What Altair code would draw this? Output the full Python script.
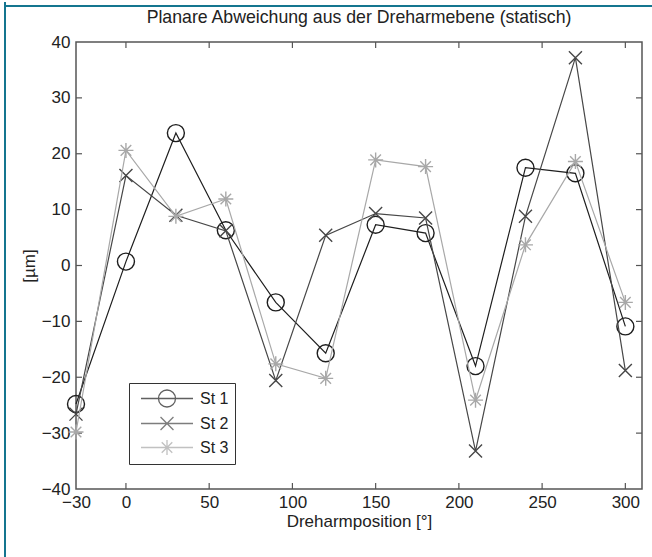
import altair as alt
import pandas as pd

# ---- data ----
positions = [-30, 0, 30, 60, 90, 120, 150, 180, 210, 240, 270, 300]
st1 = [-24.8, 0.7, 23.7, 6.3, -6.6, -15.7, 7.3, 5.8, -18.0, 17.5, 16.5, -10.9]
st2 = [-26.6, 16.1, 9.0, 6.2, -20.6, 5.4, 9.3, 8.5, -33.2, 8.8, 37.2, -18.8]
st3 = [-29.8, 20.6, 8.8, 11.9, -17.6, -20.2, 18.9, 17.7, -24.1, 3.7, 18.6, -6.6]
series_names = ["St 1", "St 2", "St 3"]
series_colors = ["#1e1e1e", "#474747", "#a8a8a8"]

x_label_values = [-30, 0, 50, 100, 150, 200, 250, 300]
y_label_values = [-40, -30, -20, -10, 0, 10, 20, 30, 40]
x_inner_ticks = [0, 50, 100, 150, 200, 250, 300]
y_inner_ticks = [-30, -20, -10, 0, 10, 20, 30]

rows = []
for name, vals in zip(series_names, [st1, st2, st3]):
    for p, v in zip(positions, vals):
        rows.append({"series": name, "pos": p, "val": v})
df = pd.DataFrame(rows)

W, H = 566, 447
FONT = "Liberation Sans"
TXT = "#222222"
FRAME = "#555555"

xscale = alt.Scale(domain=[-30, 310], nice=False, zero=False)
yscale = alt.Scale(domain=[-40, 40], nice=False, zero=False)
xaxis = alt.Axis(values=x_label_values, ticks=False, tickSize=0, domain=False, grid=False,
                 labelFont=FONT, labelFontSize=17, labelColor=TXT, labelPadding=5,
                 title="Dreharmposition [°]", titleFont=FONT, titleFontSize=17,
                 titleFontWeight="normal", titleColor=TXT, titlePadding=3,
                 labelFlush=False)
yaxis = alt.Axis(values=y_label_values, ticks=False, tickSize=0, domain=False, grid=False,
                 labelFont=FONT, labelFontSize=17, labelColor=TXT, labelPadding=6,
                 title="[µm]", titleFont=FONT, titleFontSize=17,
                 titleFontWeight="normal", titleColor=TXT, titlePadding=3,
                 labelFlush=False)

def X(field):
    return alt.X(field, type="quantitative", scale=xscale, axis=xaxis)

def Y(field):
    return alt.Y(field, type="quantitative", scale=yscale, axis=yaxis)

# ---- outer teal frame (decoration) ----
one = alt.Data(values=[{}])
teal = "#14758f"
frame_left = alt.Chart(one).mark_rule(color=teal, strokeWidth=2).encode(
    x=alt.value(-71), y=alt.value(-40), y2=alt.value(530))
frame_top = alt.Chart(one).mark_rule(color=teal, strokeWidth=2).encode(
    x=alt.value(-72), x2=alt.value(600), y=alt.value(-36))

# ---- inner ticks (MATLAB style) ----
xt = pd.DataFrame({"t": x_inner_ticks})
yt = pd.DataFrame({"t": y_inner_ticks})
tick_len = 6
tick_style = dict(color=FRAME, strokeWidth=1.2)
ticks_bottom = alt.Chart(xt).mark_rule(**tick_style).encode(
    x=X("t"), y=alt.value(H), y2=alt.value(H - tick_len))
ticks_top = alt.Chart(xt).mark_rule(**tick_style).encode(
    x=X("t"), y=alt.value(0), y2=alt.value(tick_len))
ticks_left = alt.Chart(yt).mark_rule(**tick_style).encode(
    y=Y("t"), x=alt.value(0), x2=alt.value(tick_len))
ticks_right = alt.Chart(yt).mark_rule(**tick_style).encode(
    y=Y("t"), x=alt.value(W), x2=alt.value(W - tick_len))

# ---- series lines + markers ----
marker_shapes = [
    "circle",
    "M-1,-1L1,1M-1,1L1,-1",
    "M-0.7071,-0.7071L0.7071,0.7071M-0.7071,0.7071L0.7071,-0.7071M0,-1V1M-1,0H1",
]
marker_sizes = [289, 169, 225]
series_layers = []
for name, shp, sz, col in zip(series_names, marker_shapes, marker_sizes, series_colors):
    base = alt.Chart(df).transform_filter(alt.datum.series == name)
    series_layers.append(
        base.mark_line(color=col, strokeWidth=1.2).encode(x=X("pos"), y=Y("val"))
    )
    series_layers.append(
        base.mark_point(shape=shp, size=sz, filled=False, color=col, strokeWidth=1.4, opacity=1)
        .encode(x=X("pos"), y=Y("val"))
    )

# ---- legend (line + marker symbols) ----
legend_paths = [
    "M-3.06,0H3.06M1,0A1,1,0,1,1,-1,0A1,1,0,1,1,1,0",
    "M-3.06,0H3.06M-0.76,-0.76L0.76,0.76M-0.76,0.76L0.76,-0.76",
    "M-3.06,0H3.06M-0.62,-0.62L0.62,0.62M-0.62,0.62L0.62,-0.62M0,-0.88V0.88",
]
leg = alt.Legend(title=None, orient="none", legendX=53, legendY=341,
                 labelFont=FONT, labelFontSize=16, labelColor=TXT,
                 symbolSize=289, symbolStrokeWidth=1.3, symbolOffset=22.5, labelOffset=23.5,
                 strokeColor="#333333", fillColor="white", padding=6, rowPadding=4)
legend_layer = alt.Chart(df).mark_point(size=0, filled=False).encode(
    x=X("pos"), y=Y("val"),
    shape=alt.Shape("series:N", scale=alt.Scale(domain=series_names, range=legend_paths), legend=leg),
    stroke=alt.Stroke("series:N", scale=alt.Scale(domain=series_names, range=series_colors), legend=leg),
)

chart = alt.layer(
    frame_left, frame_top,
    ticks_bottom, ticks_top, ticks_left, ticks_right,
    *series_layers, legend_layer,
).properties(
    width=W, height=H,
    title=alt.Title("Planare Abweichung aus der Dreharmebene (statisch)", font=FONT, fontSize=17.7,
                    fontWeight="normal", color=TXT, offset=-26, anchor="middle"),
    autosize=alt.AutoSizeParams(type="none"),
    padding={"left": 76, "top": 42, "right": 10, "bottom": 68},
).configure(
    background="white",
    view=alt.ViewConfig(stroke=FRAME, strokeWidth=1.5),
)

chart.save("out.html", embed_options={"renderer": "svg", "actions": False})
